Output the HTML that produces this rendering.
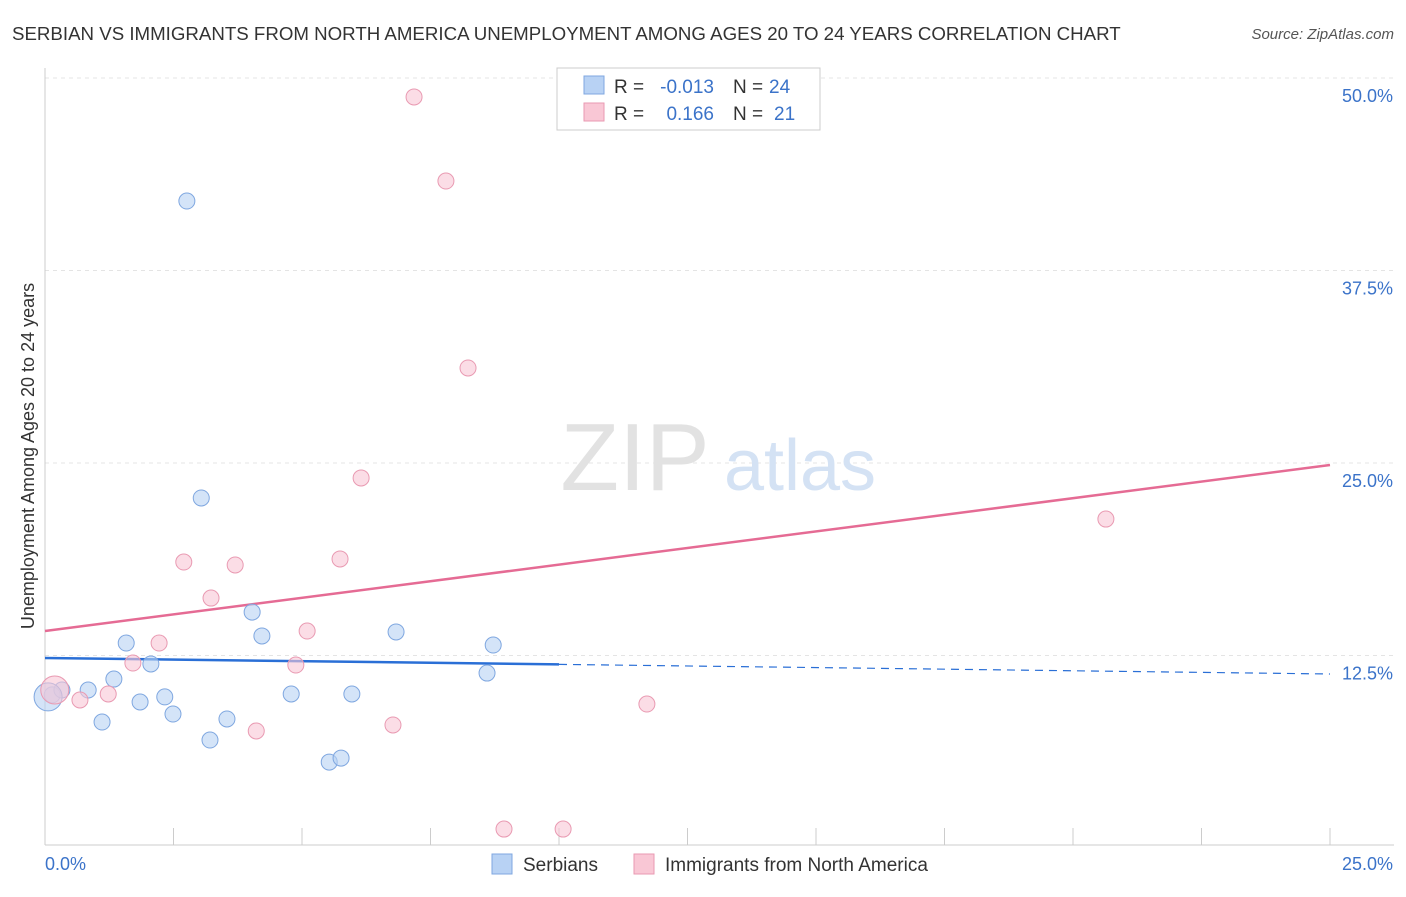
<!DOCTYPE html>
<html><head><meta charset="utf-8"><style>
body{margin:0;background:#fff;font-family:"Liberation Sans",sans-serif;}
svg text{font-family:"Liberation Sans",sans-serif;}
</style></head><body>
<svg id="chart" width="1406" height="892" xmlns="http://www.w3.org/2000/svg">
<text x="12" y="40" font-size="18.7" fill="#333">SERBIAN VS IMMIGRANTS FROM NORTH AMERICA UNEMPLOYMENT AMONG AGES 20 TO 24 YEARS CORRELATION CHART</text>
<text x="1394" y="39" font-size="15" fill="#555" text-anchor="end" font-style="italic">Source: ZipAtlas.com</text>
<g id="grid"></g>
<text x="635" y="490" font-size="96" fill="#e2e2e2" font-family="Liberation Serif" text-anchor="middle">ZIP</text>
<text x="800" y="490" font-size="72" fill="#d4e2f4" text-anchor="middle">atlas</text>
<g id="lines"></g>
<g id="points"></g>
<text transform="translate(34,456) rotate(-90)" font-size="18" fill="#333" text-anchor="middle">Unemployment Among Ages 20 to 24 years</text>
<text x="45" y="870" font-size="18" fill="#3b73c9">0.0%</text>
<text x="1393" y="870" font-size="18" fill="#3b73c9" text-anchor="end">25.0%</text>
<g>
<rect x="557" y="68" width="263" height="62" fill="#fff" stroke="#ccc"/>
<rect x="584" y="76" width="20" height="18" fill="#b8d2f4" stroke="#7fa7e0"/>
<rect x="584" y="103" width="20" height="18" fill="#f9c7d5" stroke="#e99ab2"/>
<text x="614" y="93" font-size="19" fill="#333">R =</text>
<text x="714" y="93" font-size="19" fill="#3b73c9" text-anchor="end">-0.013</text>
<text x="733" y="93" font-size="19" fill="#333">N =</text>
<text x="769" y="93" font-size="19" fill="#3b73c9">24</text>
<text x="614" y="120" font-size="19" fill="#333">R =</text>
<text x="714" y="120" font-size="19" fill="#3b73c9" text-anchor="end">0.166</text>
<text x="733" y="120" font-size="19" fill="#333">N =</text>
<text x="774" y="120" font-size="19" fill="#3b73c9">21</text>
</g>
<g>
<rect x="492" y="854" width="20" height="20" fill="#b8d2f4" stroke="#7fa7e0"/>
<text x="523" y="871" font-size="19" fill="#333">Serbians</text>
<rect x="634" y="854" width="20" height="20" fill="#f9c7d5" stroke="#e99ab2"/>
<text x="665" y="871" font-size="19" fill="#333">Immigrants from North America</text>
</g>
</svg>
<script>
const yTicks=[12.5,25,37.5,50];
const yTickLabels=["12.5%","25.0%","37.5%","50.0%"];
const blueX=[0.14,0.33,0.84,1.11,1.34,1.58,1.85,2.06,2.33,2.49,2.76,3.04,3.21,3.54,4.03,4.22,4.79,5.53,5.76,5.97,6.83,8.60,8.72,0.06];
const blueY=[9.94,10.26,10.26,8.18,10.97,13.31,9.48,11.95,9.81,8.70,42.01,22.73,7.01,8.38,15.32,13.77,10.0,5.58,5.84,10.0,14.03,11.36,13.18,9.81];
const blueBig=[23];
const pinkX=[0.19,0.68,1.23,1.71,2.22,2.70,3.23,3.70,4.11,4.88,5.10,5.74,6.15,6.77,7.18,7.80,8.23,8.93,10.08,11.71,20.64];
const pinkY=[10.26,9.61,10.0,12.01,13.31,18.57,16.23,18.38,7.60,11.88,14.09,18.77,24.03,7.99,48.77,43.31,31.17,1.23,1.23,9.35,21.36];
const pinkBig=[0];
const blueTrend=[12.34,11.30];
const pinkTrend=[14.09,24.87];
const blueSolidEnd=10;

const NS="http://www.w3.org/2000/svg";
const X=v=>45+v/25*1285;
const Y=v=>848-v/50*770;
function mk(tag,attrs,parent){const e=document.createElementNS(NS,tag);for(const k in attrs)e.setAttribute(k,attrs[k]);parent.appendChild(e);return e;}
const grid=document.getElementById('grid');
yTicks.forEach((t,i)=>{
 const l=mk('line',{x1:45,x2:1394,y1:Y(t),y2:Y(t),stroke:'#e4e4e4','stroke-dasharray':'4,4'},grid);
 
 
 const tx=mk('text',{x:1393,y:Y(t)+24,'font-size':18,fill:'#3b73c9','text-anchor':'end'},grid);
 tx.textContent=yTickLabels[i];
 
 
});
const ax=mk('line',{x1:45,x2:45,y1:68,y2:845,stroke:'#ccc'},grid);


const bx=mk('line',{x1:45,x2:1394,y1:845,y2:845,stroke:'#ccc'},grid);


for(let i=1;i<=10;i++){
 const t=mk('line',{x1:X(i*2.5),x2:X(i*2.5),y1:828,y2:845,stroke:'#ccc'},grid);
 
 
}
const lines=document.getElementById('lines');
const bs=blueTrend[0]+(blueTrend[1]-blueTrend[0])*blueSolidEnd/25;
const b1=mk('line',{x1:X(0),y1:Y(blueTrend[0]),x2:X(blueSolidEnd),y2:Y(bs),stroke:'#2a6fd6','stroke-width':2.5},lines);


const b2=mk('line',{x1:X(blueSolidEnd),y1:Y(bs),x2:X(25),y2:Y(blueTrend[1]),stroke:'#2a6fd6','stroke-width':1.2,'stroke-dasharray':'8,6'},lines);


const p1=mk('line',{x1:X(0),y1:Y(pinkTrend[0]),x2:X(25),y2:Y(pinkTrend[1]),stroke:'#e56b94','stroke-width':2.5},lines);


const pts=document.getElementById('points');
blueX.forEach((x,i)=>{
 const c=mk('circle',{cx:X(x),cy:Y(blueY[i]),r:blueBig.includes(i)?14:8,fill:'#b8d2f4','fill-opacity':0.6,stroke:'#7fa7e0','stroke-width':1},pts);
 
 
});
pinkX.forEach((x,i)=>{
 const c=mk('circle',{cx:X(x),cy:Y(pinkY[i]),r:pinkBig.includes(i)?14:8,fill:'#f9c7d5','fill-opacity':0.6,stroke:'#e99ab2','stroke-width':1},pts);
 
 
});
</script>
</body></html>
